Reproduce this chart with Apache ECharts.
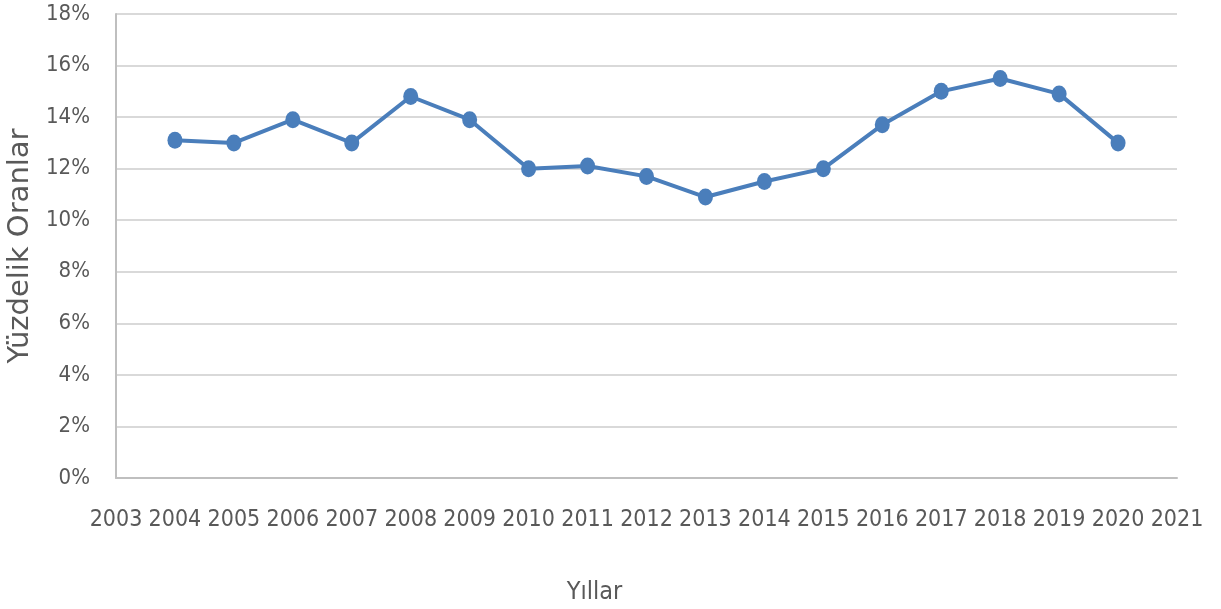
<!DOCTYPE html>
<html>
<head>
<meta charset="utf-8">
<script src="https://cdn.jsdelivr.net/npm/echarts@6/dist/echarts.min.js"></script>
<style>html,body{margin:0;padding:0;background:#fff}#c{width:1221px;height:609px}</style>
</head>
<body>
<div id="c"></div>
<script>
const years = [2004, 2005, 2006, 2007, 2008, 2009, 2010, 2011, 2012, 2013, 2014, 2015, 2016, 2017, 2018, 2019, 2020];
const rates = [13.1, 13.0, 13.9, 13.0, 14.8, 13.9, 12.0, 12.1, 11.7, 10.9, 11.5, 12.0, 13.7, 15.0, 15.5, 14.9, 13.0];
const xName = 'Yıllar';
const yName = 'Yüzdelik Oranlar';

const tickFont = '"DejaVu Sans Condensed", "Liberation Sans Narrow", sans-serif';
const nameFont = '"DejaVu Sans", sans-serif';
const chart = echarts.init(document.getElementById('c'));
chart.setOption({
  animation: false,
  grid: {left: 116, right: 44, top: 14, bottom: 131, containLabel: false, outerBoundsMode: 'none'},
  xAxis: {
    type: 'value', min: 2003, max: 2021, interval: 1,
    name: xName, nameLocation: 'middle', nameGap: 102,
    nameTextStyle: {fontFamily: tickFont, fontSize: 25, color: '#595959', padding: [0, 104, 0, 0]},
    axisLine: {show: true, lineStyle: {color: '#bfbfbf', width: 2}},
    axisTick: {show: false},
    splitLine: {show: false},
    axisLabel: {fontFamily: tickFont, fontSize: 23, color: '#595959', margin: 31, formatter: v => String(v)}
  },
  yAxis: {
    type: 'value', min: 0, max: 18, interval: 2,
    name: yName, nameLocation: 'middle', nameGap: 75, nameRotate: 90,
    nameTextStyle: {fontFamily: nameFont, fontSize: 29, color: '#595959'},
    axisLine: {show: true, lineStyle: {color: '#bfbfbf', width: 2}},
    axisTick: {show: false},
    splitLine: {show: true, lineStyle: {color: '#d9d9d9', width: 2}},
    axisLabel: {fontFamily: tickFont, fontSize: 22, color: '#595959', margin: 26, formatter: '{value}%'}
  },
  series: [{
    type: 'line',
    data: years.map((y, i) => [y, rates[i]]),
    symbol: 'circle', symbolSize: [15, 17],
    lineStyle: {color: '#4a7ebb', width: 4},
    itemStyle: {color: '#4a7ebb'}
  }]
});
</script>
</body>
</html>
